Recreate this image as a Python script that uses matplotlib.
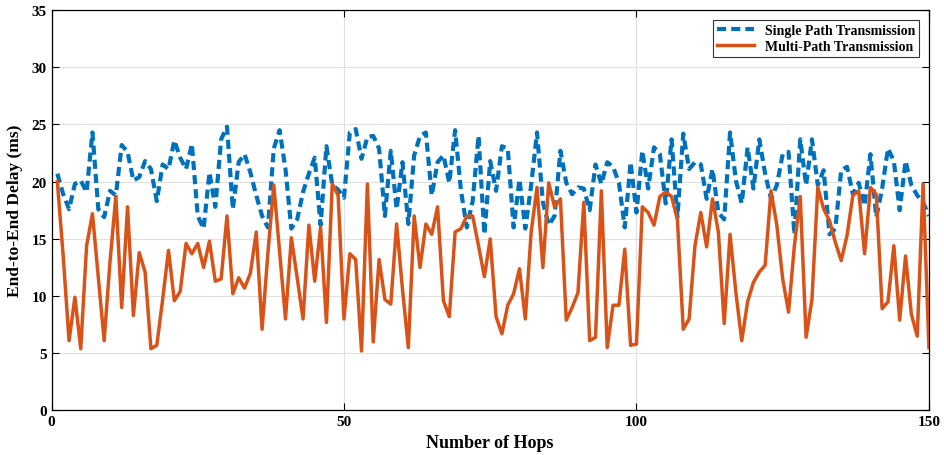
import numpy as np
import matplotlib
matplotlib.use('Agg')
import matplotlib.pyplot as plt

# Values (hops 1..150)
hops = np.arange(1, 151)

single_path = [
    20.7, 18.9, 17.6, 19.8, 20.1, 19.1, 24.3, 17.6, 16.9, 19.2,
    18.8, 23.2, 22.6, 20.1, 20.4, 21.8, 21.1, 18.3, 21.5, 21.1,
    23.6, 22.1, 21.1, 23.3, 17.0, 15.9, 20.8, 17.8, 23.7, 24.8,
    17.6, 21.7, 22.4, 20.8, 18.8, 17.0, 16.0, 22.9, 24.5, 21.1,
    15.9, 16.7, 19.1, 20.7, 22.1, 16.2, 23.1, 19.7, 19.3, 18.6,
    24.3, 24.6, 22.0, 23.9, 24.0, 22.9, 17.0, 22.7, 17.6, 21.7,
    16.3, 22.3, 24.0, 24.3, 18.8, 21.7, 22.3, 19.9, 24.5, 19.2,
    16.0, 18.3, 24.0, 15.4, 21.8, 19.2, 23.1, 22.9, 16.0, 20.2,
    15.9, 19.7, 24.3, 18.2, 16.2, 17.0, 22.7, 19.9, 18.9, 19.5,
    19.4, 17.5, 21.5, 19.8, 21.7, 21.3, 19.9, 16.0, 21.7, 17.3,
    22.7, 19.4, 23.0, 22.4, 18.1, 23.7, 16.9, 24.2, 21.1, 21.7,
    21.5, 18.5, 21.1, 17.3, 16.7, 24.3, 20.1, 18.1, 23.0, 19.4,
    23.7, 20.7, 18.5, 19.7, 22.4, 22.6, 15.4, 23.7, 19.7, 23.7,
    19.7, 21.0, 15.4, 15.9, 21.0, 21.3, 18.9, 19.9, 17.9, 22.4,
    16.9, 19.4, 22.9, 21.8, 17.5, 21.8, 19.7, 18.8, 18.2, 17.0,
]

multi_path = [
    20.0, 13.5, 6.1, 9.9, 5.4, 14.4, 17.2, 11.7, 6.1, 13.0,
    18.7, 9.0, 17.8, 8.3, 13.8, 12.1, 5.4, 5.7, 9.7, 14.0,
    9.6, 10.4, 14.6, 13.7, 14.6, 12.5, 14.8, 11.3, 11.5, 17.0,
    10.2, 11.6, 10.7, 12.0, 15.6, 7.1, 13.8, 19.7, 13.8, 8.0,
    15.1, 11.6, 8.0, 16.2, 11.3, 16.0, 7.7, 19.8, 18.8, 8.0,
    13.7, 13.2, 5.2, 19.8, 6.0, 13.2, 9.7, 9.3, 16.3, 10.6,
    5.5, 17.0, 12.5, 16.3, 15.4, 17.8, 9.6, 8.2, 15.6, 15.9,
    17.0, 17.0, 14.4, 11.7, 15.0, 8.2, 6.7, 9.2, 10.2, 12.4,
    8.0, 15.6, 19.5, 12.5, 19.9, 17.8, 18.5, 7.9, 9.0, 10.3,
    18.2, 6.1, 6.4, 19.2, 5.5, 9.2, 9.2, 14.1, 5.7, 5.8,
    17.8, 17.3, 16.2, 18.7, 19.1, 18.7, 16.7, 7.1, 8.0, 14.4,
    17.3, 14.3, 18.5, 15.6, 7.6, 15.4, 10.3, 6.1, 9.5, 11.2,
    12.1, 12.7, 19.2, 16.2, 11.5, 8.6, 14.4, 18.7, 6.4, 9.7,
    19.5, 17.6, 16.6, 14.7, 13.1, 15.3, 18.8, 19.2, 13.7, 19.5,
    18.9, 8.9, 9.5, 14.4, 7.9, 13.5, 8.4, 6.5, 19.8, 5.5,
]

plt.rcParams['font.family'] = ['Liberation Serif', 'DejaVu Serif']
plt.rcParams['font.weight'] = 'bold'

fig = plt.figure(figsize=(9.45, 4.56), dpi=100)
ax = fig.add_axes([0.0545, 0.0976, 0.9285, 0.8782])

ax.plot(hops, single_path, color='#0072BD', linestyle=(0, (2.2, 1.2)),
        linewidth=3.0, label='Single Path Transmission', zorder=3)
ax.plot(hops, multi_path, color='#D95319', linewidth=2.5,
        label='Multi-Path Transmission', zorder=4)

ax.set_xlim(0, 150)
ax.set_ylim(0, 35)
ax.set_xticks([0, 50, 100, 150])
ax.set_yticks(range(0, 36, 5))
ax.grid(True, color='#e0e0e0', linewidth=0.8)
ax.set_axisbelow(True)
ax.tick_params(direction='in', length=5, width=0.8, labelsize=11,
               top=True, right=True)
for lbl in ax.get_xticklabels() + ax.get_yticklabels():
    lbl.set_fontweight('bold')
for s in ax.spines.values():
    s.set_linewidth(0.9)

ax.set_xlabel('Number of Hops', fontsize=13, fontweight='bold', labelpad=4)
ax.set_ylabel('End-to-End Delay (ms)', fontsize=12.5, fontweight='bold', labelpad=6)

leg = ax.legend(loc='upper right', fontsize=10, frameon=True, fancybox=False,
                edgecolor='black', handlelength=2.6, borderpad=0.3,
                labelspacing=0.2, borderaxespad=0.7)
leg.get_frame().set_linewidth(0.8)
for t in leg.get_texts():
    t.set_fontweight('bold')

fig.savefig('out.png', dpi=100)
